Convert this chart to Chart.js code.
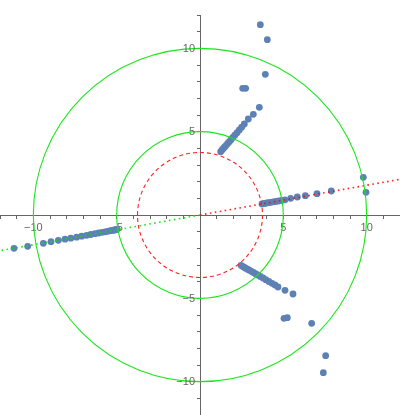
<!DOCTYPE html>
<html><head><meta charset="utf-8">
<style>html,body{margin:0;padding:0;background:#fff;}#wrap{width:400px;height:415px;position:relative;}</style>
<script src="https://cdn.jsdelivr.net/npm/chart.js@4/dist/chart.umd.min.js"></script>
</head><body><div id="wrap"><canvas id="c"></canvas></div>
<script>
// axis ranges and labelled ticks
const axisMin = -12, axisMax = 12;
const xTickValues = [-10, -5, 5, 10];
const xTickLabels = ['\u221210', '\u22125', '5', '10'];
const yTickValues = [-10, -5, 5, 10];
const yTickLabels = ['\u221210', '\u22125', '5', '10'];

// reference circles (radius in data units)
const solidCircleRadii = [5, 10];
const dashedCircleRadius = 3.75;

// dotted guide line through the origin
const guideRightX = [0, 12.5];
const guideRightY = [0, 2.23];
const guideLeftX = [0, -12.5];
const guideLeftY = [0, -2.23];

// point clusters
const leftX = [-11.16, -10.34, -9.4, -8.94, -8.5, -8.1, -7.75, -7.4, -7.1, -6.8, -6.55, -6.3, -6.08, -5.88, -5.7, -5.55, -5.42, -5.3, -5.2, -5.12, -5.05, -4.98];
const leftY = [-2.0, -1.88, -1.7, -1.6, -1.52, -1.45, -1.39, -1.33, -1.27, -1.22, -1.17, -1.12, -1.08, -1.04, -1.01, -0.98, -0.95, -0.93, -0.91, -0.9, -0.88, -0.86];

const rightX = [3.72, 3.8, 3.9, 4.0, 4.12, 4.25, 4.4, 4.55, 4.72, 4.9, 5.1, 5.44, 5.84, 6.32, 7.02, 7.88, 9.8, 9.96];
const rightY = [0.66, 0.68, 0.7, 0.72, 0.74, 0.76, 0.79, 0.81, 0.84, 0.87, 0.91, 1.0, 1.08, 1.16, 1.28, 1.44, 2.26, 1.36];

const upperX = [1.24, 1.32, 1.4, 1.48, 1.57, 1.66, 1.76, 1.86, 1.97, 2.09, 2.22, 2.36, 2.5, 2.66, 2.9, 3.2, 3.56, 2.56, 2.74, 3.92, 4.04, 3.62];
const upperY = [3.8, 3.9, 3.99, 4.08, 4.18, 4.29, 4.4, 4.52, 4.65, 4.79, 4.94, 5.1, 5.27, 5.46, 5.76, 6.04, 6.46, 7.6, 7.6, 8.44, 10.52, 11.42];

const lowerX = [2.46, 2.55, 2.64, 2.74, 2.85, 2.96, 3.08, 3.2, 3.33, 3.47, 3.62, 3.78, 3.95, 4.13, 4.32, 4.5, 4.68, 5.1, 5.58, 5.04, 5.24, 6.7, 7.54, 7.4];
const lowerY = [-3.02, -3.08, -3.13, -3.19, -3.25, -3.31, -3.38, -3.45, -3.52, -3.6, -3.69, -3.78, -3.88, -3.99, -4.1, -4.2, -4.32, -4.52, -4.74, -6.2, -6.16, -6.5, -8.44, -9.46];

const zip = (xs, ys) => xs.map((v, i) => ({x: v, y: ys[i]}));

const pointColor = '#5E81B5';
const axisColor = '#666666';
const labelFont = '11px "Liberation Sans", Arial, sans-serif';

const circlePlugin = {
  id: 'circles',
  afterDatasetsDraw(chart) {
    const {ctx, chartArea} = chart;
    const sx = chart.scales.x, sy = chart.scales.y;
    const cx = sx.getPixelForValue(0), cy = sy.getPixelForValue(0);
    ctx.save();
    ctx.beginPath();
    ctx.rect(chartArea.left, chartArea.top, chartArea.width, chartArea.height);
    ctx.clip();
    const drawCircle = (r) => {
      const rx = sx.getPixelForValue(r) - cx;
      const ry = cy - sy.getPixelForValue(r);
      ctx.beginPath();
      ctx.ellipse(cx, cy, rx, ry, 0, 0, Math.PI * 2);
      ctx.stroke();
    };
    ctx.strokeStyle = '#19e619';
    ctx.lineWidth = 1.1;
    ctx.setLineDash([]);
    solidCircleRadii.forEach(drawCircle);
    ctx.strokeStyle = '#ff2020';
    ctx.lineWidth = 1.1;
    ctx.setLineDash([4, 3]);
    drawCircle(dashedCircleRadius);
    ctx.restore();
  },
  afterDraw(chart) {
    // y-axis tick labels, placed to the left of the centred axis
    const {ctx} = chart;
    const sx = chart.scales.x, sy = chart.scales.y;
    const ax = sx.getPixelForValue(0);
    ctx.save();
    ctx.font = labelFont;
    ctx.fillStyle = axisColor;
    ctx.textAlign = 'right';
    ctx.textBaseline = 'middle';
    yTickValues.forEach((v, i) => {
      ctx.fillText(yTickLabels[i], ax - 5, sy.getPixelForValue(v) + 0.5);
    });
    ctx.restore();
  }
};

const labelFor = (vals, labels) => (v) => {
  const i = vals.indexOf(v);
  return i >= 0 ? labels[i] : '';
};
const zeroPad = (scale) => {
  scale.paddingTop = 0; scale.paddingBottom = 0;
  scale.paddingLeft = 0; scale.paddingRight = 0;
};

new Chart(document.getElementById('c'), {
  type: 'scatter',
  data: {
    datasets: [
      {type: 'line', data: zip(guideRightX, guideRightY), borderColor: 'rgba(255,0,0,0.85)', borderWidth: 1.6, borderDash: [1.6, 3.4], pointRadius: 0, fill: false, showLine: true, order: 0},
      {type: 'line', data: zip(guideLeftX, guideLeftY), borderColor: 'rgba(0,230,0,0.9)', borderWidth: 1.6, borderDash: [1.6, 3.4], pointRadius: 0, fill: false, showLine: true, order: 0},
      {data: zip(leftX, leftY), backgroundColor: pointColor, borderWidth: 0, pointRadius: 3.4, order: 1},
      {data: zip(rightX, rightY), backgroundColor: pointColor, borderWidth: 0, pointRadius: 3.4, order: 1},
      {data: zip(upperX, upperY), backgroundColor: pointColor, borderWidth: 0, pointRadius: 3.4, order: 1},
      {data: zip(lowerX, lowerY), backgroundColor: pointColor, borderWidth: 0, pointRadius: 3.4, order: 1}
    ]
  },
  options: {
    responsive: true,
    maintainAspectRatio: false,
    animation: false,
    layout: {autoPadding: false, padding: {top: 15, left: 0, right: 0, bottom: 0}},
    plugins: {legend: {display: false}, tooltip: {enabled: false}},
    scales: {
      x: {
        type: 'linear', min: axisMin, max: axisMax,
        position: {y: 0},
        grid: {display: true, drawOnChartArea: false, drawTicks: true, tickLength: 3, color: axisColor},
        border: {display: true, color: axisColor, width: 1},
        ticks: {stepSize: 1, autoSkip: false, maxRotation: 0, padding: 3, color: axisColor,
          font: {family: '"Liberation Sans", Arial, sans-serif', size: 11},
          callback: labelFor(xTickValues, xTickLabels)},
        afterFit: zeroPad
      },
      y: {
        type: 'linear', min: axisMin, max: axisMax,
        position: {x: 0},
        grid: {display: true, drawOnChartArea: false, drawTicks: true, tickLength: 3, color: axisColor},
        border: {display: true, color: axisColor, width: 1},
        ticks: {stepSize: 1, autoSkip: false, padding: 3, color: axisColor,
          font: {family: '"Liberation Sans", Arial, sans-serif', size: 11},
          callback: () => ''},
        afterFit: zeroPad
      }
    }
  },
  plugins: [circlePlugin]
});
</script>
</body></html>
